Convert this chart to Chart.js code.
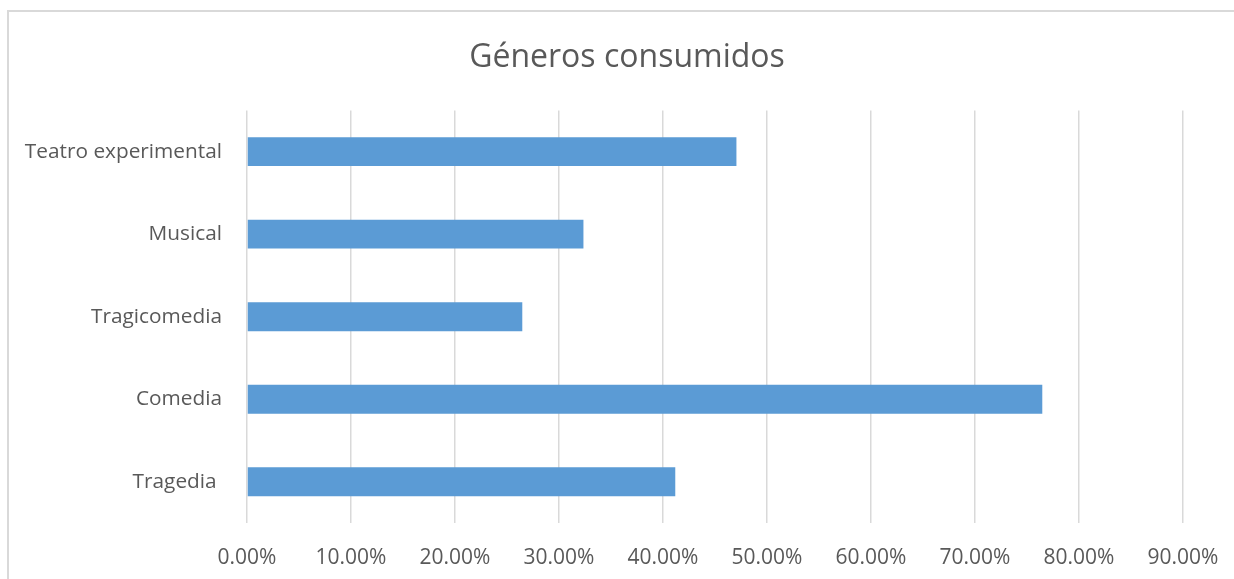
<!DOCTYPE html>
<html>
<head>
<meta charset="utf-8">
<script src="https://cdn.jsdelivr.net/npm/chart.js@4"></script>
<style>
  html, body { margin: 0; padding: 0; background: #fff; overflow: hidden; }
  .wrap { width: 1234px; height: 579px; position: relative; }
</style>
</head>
<body>
<div class="wrap"><canvas id="generos"></canvas></div>
<script>
// géneros (de arriba a abajo) y porcentaje de respuestas
const generos = ["Teatro experimental", "Musical", "Tragicomedia", "Comedia", "Tragedia "];
const porcentajes = [47.06, 32.35, 26.47, 76.47, 41.18];
const maxEje = 90;
const pasoEje = 10;

const gris = "#595959";
const fuente = "'Open Sans', 'Noto Sans', sans-serif";

// marco gris alrededor del gráfico
const marco = {
  id: "marco",
  beforeDraw(chart) {
    const ctx = chart.ctx;
    ctx.save();
    ctx.fillStyle = "#fff";
    ctx.fillRect(0, 0, chart.width, chart.height);
    ctx.strokeStyle = "#d9d9d9";
    ctx.lineWidth = 2;
    ctx.strokeRect(8, 11, chart.width + 20, chart.height + 20);
    ctx.restore();
  }
};

const ctx = document.getElementById("generos").getContext("2d");

new Chart(ctx, {
  type: "bar",
  data: {
    labels: generos,
    datasets: [
      {
        data: porcentajes,
        backgroundColor: "#5b9bd5",
        borderWidth: 0,
        categoryPercentage: 1,
        barPercentage: 0.35,
      },
    ],
  },
  options: {
    indexAxis: "y",
    responsive: true,
    maintainAspectRatio: false,
    animation: false,
    layout: { padding: { left: 20, right: 0, top: 0, bottom: 0 } },
    scales: {
      x: {
        min: 0,
        max: maxEje,
        border: { display: false },
        grid: { color: "#d9d9d9", lineWidth: 1.5, drawTicks: false },
        ticks: {
          stepSize: pasoEje,
          padding: 22,
          color: gris,
          font: { family: fuente, size: 21 },
          callback: (v) => v.toFixed(2) + "%",
        },
        afterFit: (scale) => {
          scale.height = 56;
          scale.paddingLeft = 0;
          scale.paddingRight = 0;
        },
      },
      y: {
        border: { display: false },
        grid: { display: false },
        ticks: {
          padding: 17,
          color: gris,
          font: { family: fuente, size: 20.8 },
        },
        afterFit: (scale) => { scale.width = 227; },
      },
      // eje vacío a la derecha: deja el margen sin descentrar el título
      margen: {
        type: "category",
        position: "right",
        border: { display: false },
        grid: { display: false },
        ticks: { display: false },
        afterFit: (scale) => { scale.width = 51; },
      },
    },
    plugins: {
      legend: { display: false },
      tooltip: { enabled: false },
      title: {
        display: true,
        text: "Géneros consumidos",
        color: gris,
        font: { family: fuente, size: 32, weight: "normal" },
        padding: { top: 39, bottom: 33 },
      },
    },
  },
  plugins: [marco],
});
</script>
</body>
</html>
